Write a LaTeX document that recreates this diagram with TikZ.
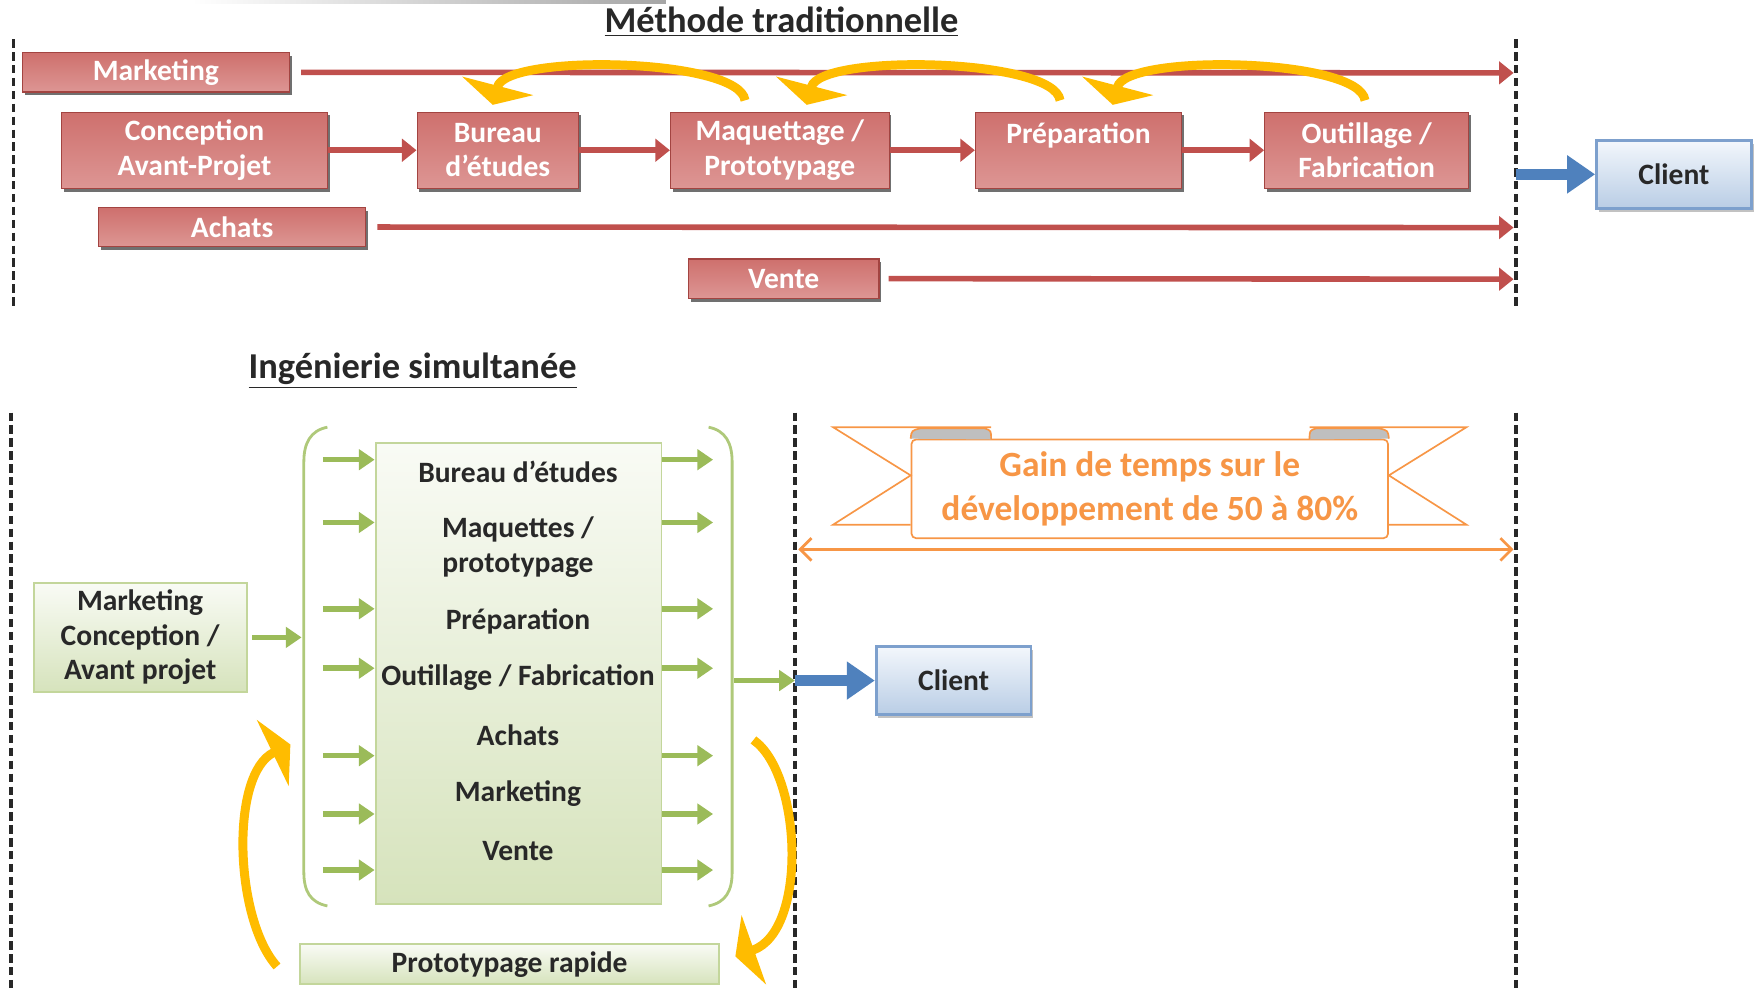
\documentclass[tikz,border=0pt]{standalone}
\usepackage{fontspec}
\setmainfont{Carlito}
\usetikzlibrary{arrows.meta, positioning, shadows, calc}
\definecolor{phasered}{RGB}{192,80,77}
\definecolor{phasetop}{RGB}{206,112,109}
\definecolor{phasebot}{RGB}{221,150,148}
\definecolor{clientblue}{RGB}{79,129,189}
\definecolor{clienttop}{RGB}{243,247,252}
\definecolor{clientbot}{RGB}{185,205,229}
\definecolor{clientedge}{RGB}{125,160,205}
\definecolor{simgreen}{RGB}{155,187,89}
\definecolor{simtop}{RGB}{249,251,245}
\definecolor{simbot}{RGB}{214,227,188}
\definecolor{simedge}{RGB}{195,214,155}
\definecolor{gainorange}{RGB}{247,150,70}
\definecolor{loopgold}{RGB}{255,188,0}
\definecolor{darkgray}{RGB}{40,40,40}

\begin{document}
\begin{tikzpicture}[x=0.2mm, y=-0.2mm,
    font=\fontsize{15}{17.5}\selectfont\bfseries,
    phase/.style={rectangle, draw=phasered!85!black, line width=0.2mm, top color=phasetop, middle color=phasered, bottom color=phasebot, text=white, align=center, minimum height=13.6mm, inner sep=0pt, drop shadow={shadow xshift=0.4mm, shadow yshift=-0.6mm, fill=black!70, opacity=0.8}},
    track/.style={phase, minimum height=7mm},
    client/.style={rectangle, draw=clientedge, line width=0.5mm, top color=clienttop, bottom color=clientbot, text=darkgray, minimum width=27.6mm, minimum height=12.2mm, drop shadow={shadow xshift=0.4mm, shadow yshift=-0.6mm, fill=black!40, opacity=0.6}},
    sim/.style={rectangle, draw=simedge, line width=0.35mm, top color=simtop, bottom color=simbot, text=darkgray, align=center, inner sep=0pt},
    item/.style={text=darkgray, align=center},
    heading/.style={text=darkgray, font=\fontsize{18.5}{21}\selectfont\bfseries},
    gainbox/.style={rectangle, rounded corners=0.8mm, draw=gainorange, line width=0.3mm, fill=white, text=gainorange, align=center, minimum width=85mm, minimum height=17.6mm, font=\fontsize{18}{22}\selectfont\bfseries},
    limit/.style={darkgray, line width=0.65mm, dash pattern=on 1.5mm off 0.8mm},
    redarrow/.style={-{Triangle[length=2.6mm, width=4mm]}, line width=1mm, color=phasered},
    bluearrow/.style={-{Triangle[length=5mm, width=6.5mm]}, line width=2mm, color=clientblue},
    greenarrow/.style={-{Triangle[length=2.8mm, width=3.6mm]}, line width=1mm, color=simgreen},
    bracket/.style={draw=simgreen!80, line width=0.5mm},
    loop/.style={-{Triangle[length=3.5mm, width=13mm]}, line width=1.6mm, color=loopgold},
    gainline/.style={{Straight Barb[length=2mm, width=4mm]}-{Straight Barb[length=2mm, width=4mm]}, line width=0.5mm, color=gainorange}
]
\useasboundingbox (0,0) rectangle (1568,884);
\shade[left color=white, right color=black!35] (171,0) rectangle (594,3);

% methode traditionnelle
\node[heading] (trad) at (697,19) {\underline{Méthode traditionnelle}};
\draw[limit] (12,35) -- (12,275);
\draw[limit] (1352,35) -- (1352,275);
\node[track, minimum width=47.6mm] (mkt) at (139,64.5) {Marketing};
\node[phase, minimum width=47.4mm] (conc) at (173.5,134) {Conception\\Avant-Projet};
\node[phase, minimum width=28.8mm] (bureau) at (444,134) {Bureau\\d’études};
\node[phase, minimum width=39mm] (maq) at (695.5,134) {Maquettage /\\Prototypage};
\node[phase, minimum width=36.8mm] (prep) at (962,134) {Préparation\\\mbox{}};
\node[phase, minimum width=36.4mm] (outil) at (1219,134) {Outillage /\\Fabrication};
\node[track, minimum width=47.6mm] (achats) at (207,202.5) {Achats};
\node[track, minimum width=34mm] (vente) at (699,248.5) {Vente};
\node[client] (clientT) at (1493,155.5) {Client};
\coordinate (endM) at (1350,65);
\coordinate (endA) at (1350,203);
\coordinate (endV) at (1350,249);
\coordinate (endT) at (1352,155.5);
\draw[redarrow] ([xshift=2mm]mkt.east) -- (endM);
\draw[redarrow] ([xshift=2mm]achats.east) -- (endA);
\draw[redarrow] ([xshift=1.6mm]vente.east) -- (endV);
\draw[redarrow] (conc) -- (bureau);
\draw[redarrow] (bureau) -- (maq);
\draw[redarrow] (maq) -- (prep);
\draw[redarrow] (prep) -- (outil);
\draw[bluearrow] (endT) -- (clientT.west);
\draw[loop] ($(maq.north west)+(67,-10)$) .. controls +(-5,-38) and +(12,-46) .. ($(bureau.north west)+(68,-6)$);
\draw[loop] ($(prep.north west)+(76,-10)$) .. controls +(-5,-38) and +(12,-46) .. ($(maq.north west)+(122,-6)$);
\draw[loop] ($(outil.north west)+(90,-10)$) .. controls +(-5,-38) and +(12,-46) .. ($(prep.north west)+(123,-6)$);

% ingenierie simultanee
\node[heading] (simul) at (368,331) {\underline{Ingénierie simultanée}};
\draw[limit] (10,368) -- (10,884);
\draw[limit] (709,368) -- (709,884);
\draw[limit] (1352,368) -- (1352,884);
\node[sim, minimum width=51mm, minimum height=82.2mm] (simbox) at (462.5,600.5) {};
\node[item] (be) at (462,421) {Bureau d’études};
\node[item] (maqs) at (462,488) {Maquettes /\\prototypage};
\node[item] (prepa) at (462,554) {Préparation};
\node[item] (outfab) at (462,604) {Outillage / Fabrication};
\node[item] (ach) at (462,656) {Achats};
\node[item] (mark) at (462,708) {Marketing};
\node[item] (ven) at (462,759) {Vente};
\foreach \y [count=\i] in {410,466,543,596,674,726,776} {
    \coordinate (inL\i) at (288,\y);
    \coordinate (outR\i) at (636,\y);
    \draw[greenarrow] (inL\i) -- (inL\i -| simbox.west);
    \draw[greenarrow] (simbox.east |- outR\i) -- (outR\i);
}
\draw[bracket] (292,381) .. controls (277,384) and (271,395) .. (271,412) -- (271,778) .. controls (271,795) and (277,805) .. (292,808);
\draw[bracket] (632,381) .. controls (647,384) and (653,395) .. (653,412) -- (653,778) .. controls (653,795) and (647,805) .. (632,808);
\node[sim, minimum width=38mm, minimum height=19.4mm] (inbox) at (125,568.5) {Marketing\\Conception /\\Avant projet};
\node[sim, minimum width=74.6mm, minimum height=7.2mm] (proto) at (454.5,860) {Prototypage rapide};
\node[client] (clientB) at (850.5,607) {Client};
\coordinate (lbr) at (269,568.5);
\coordinate (rbr) at (655,607);
\coordinate (midB) at (709,607);
\draw[greenarrow] ([xshift=0.8mm]inbox.east) -- (lbr);
\draw[greenarrow] (rbr) -- (midB);
\draw[bluearrow] (midB) -- (clientB.west);
\coordinate (loopL) at (259,664);
\coordinate (loopR) at (672,660);
\draw[loop] ($(proto.west)+(-20,2)$) .. controls +(-38,-42) and +(-54,26) .. (loopL);
\draw[loop] (loopR) .. controls +(43,30) and +(65,-23) .. ($(proto.east)+(14,-7)$);

% gain de temps
\node[gainbox] (gain) at (1025.5,436) {Gain de temps sur le\\développement de 50 à 80\%};
\draw[gainorange, line width=0.3mm] (884,381) -- (743,381) -- (gain.west |- 0,424) -- (743,468) -- (gain.south west |- 0,468);
\draw[gainorange, line width=0.3mm] (1168,381) -- (1308,381) -- (gain.east |- 0,424) -- (1308,468) -- (gain.south east |- 0,468);
\draw[gainorange, line width=0.3mm, fill=black!25] (gain.north west) .. controls (813,384) .. (821,382) -- (878,382) .. controls (884,384) .. (884,392);
\draw[gainorange, line width=0.3mm, fill=black!25] (gain.north east) .. controls (1238,384) .. (1230,382) -- (1174,382) .. controls (1168,384) .. (1168,392);
\coordinate (gainL) at (712,490);
\coordinate (gainR) at (1350,490);
\draw[gainline] (gainL) -- (gainR);
\end{tikzpicture}
\end{document}
